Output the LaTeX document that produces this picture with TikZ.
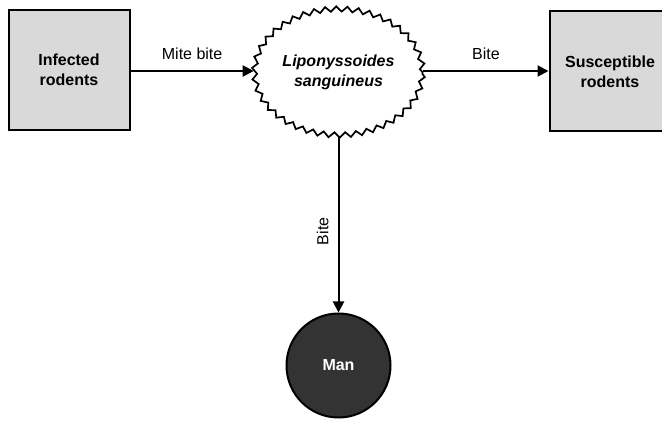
\documentclass[tikz,border=0pt]{standalone}
\usepackage{fontspec}
\setmainfont{Liberation Sans}
\usetikzlibrary{arrows.meta,shapes.geometric,decorations.pathmorphing}
\definecolor{boxgray}{HTML}{D9D9D9}
\definecolor{mandark}{HTML}{333333}
\tikzset{
  host/.style={draw=black, line width=2pt, fill=boxgray, minimum width=121pt,
    minimum height=120pt, align=center, font=\fontsize{16}{20}\selectfont\bfseries},
  vector/.style={ellipse, draw=black, line width=1.7pt, fill=white,
    minimum width=142pt, minimum height=126pt, align=center,
    font=\fontsize{16}{20}\selectfont\bfseries\itshape,
    decorate, decoration={zigzag, segment length=11pt, amplitude=2.6pt}},
  target/.style={circle, draw=black, line width=2pt, fill=mandark,
    minimum size=104pt, text=white, font=\fontsize{16}{20}\selectfont\bfseries},
  flow/.style={line width=2pt, -{Triangle[length=11pt,width=11pt]}},
  edgelabel/.style={inner sep=0pt, font=\fontsize{16}{20}\selectfont}
}
\begin{document}
\begin{tikzpicture}[x=1pt, y=-1pt]
  \useasboundingbox (0,0) rectangle (662,422);
  % hosts and vector
  \node[host] (inf) at (69,70) {Infected\\rodents};
  \node[host] (sus) at (610,71.5) {Susceptible\\rodents};
  \node[vector] (mite) at (338.5,72) {Liponyssoides\\sanguineus};
  \node[target] (man) at (338.5,365.5) {Man};
  % transmission routes
  \draw[flow] (inf.east |- 0,71) -- node[edgelabel, midway, above=10pt] {Mite bite} (mite.west |- 0,71);
  \draw[flow] (mite.east |- 0,71) -- node[edgelabel, midway, above=10pt] {Bite} (sus.west |- 0,71);
  \draw[flow] (mite.south) -- node[edgelabel, pos=0.54, xshift=-9pt, rotate=90, anchor=south] {Bite} (man.north);
\end{tikzpicture}
\end{document}
